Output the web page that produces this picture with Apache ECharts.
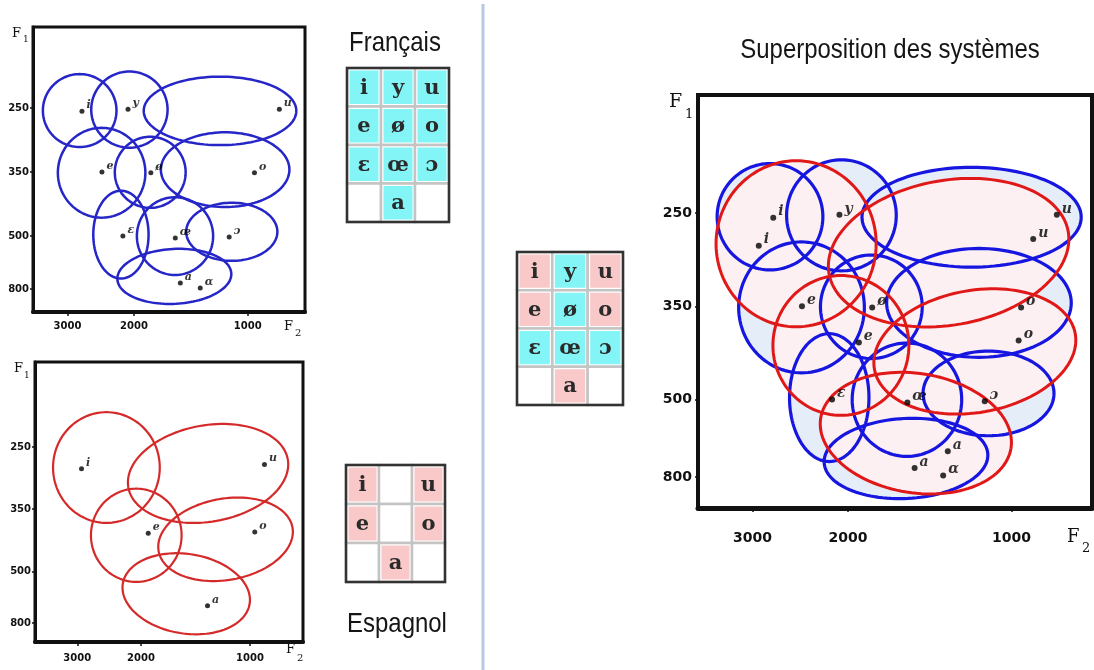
<!DOCTYPE html>
<html><head><meta charset="utf-8">
<script src="https://cdn.jsdelivr.net/npm/echarts@6/dist/echarts.min.js"></script>
<style>html,body{margin:0;padding:0;background:#fff}#c{width:1094px;height:670px}</style>
</head><body><div id="c"></div>
<script>
// ---------- data ----------
const f2Ticks = [3000, 2000, 1000];
const f1Ticks = [250, 350, 500, 800];

const frenchSymbols = ['i', 'y', 'u', 'e', 'ø', 'o', 'ɛ', 'œ', 'ɔ', 'a', 'ɑ'];
const frenchF2 = [2746, 2074, 825, 2431, 1805, 960, 2140, 1555, 1120, 1508, 1336];
const frenchF1 = [255, 252, 252, 350, 352, 352, 500, 511, 506, 765, 794];

const spanishSymbols = ['i', 'u', 'e', 'o', 'a'];
const spanishF2 = [2920, 912, 1910, 970, 1310];
const spanishF1 = [285, 278, 408, 405, 700];

// dispersion zones (unrotated extent): front F2, back F2, top F1, bottom F1, tilt (deg)
const frenchZoneVowels = ['i', 'y', 'u', 'e', 'ø', 'o', 'ɛ', 'œ', 'ɔ', 'a'];
const frenchZoneF2Front = [3484, 2595, 1885, 3180, 2248, 1698, 2563, 1965, 1455, 2214];
const frenchZoneF2Back = [2225, 1630, 744, 1866, 1460, 776, 1830, 1235, 835, 1105];
const frenchZoneF1Top = [197, 193, 201, 281, 295, 288, 394, 409, 422, 573];
const frenchZoneF1Bottom = [311, 312, 308, 457, 434, 432, 740, 720, 640, 883];
const frenchZoneTilt = [0, 0, 0, 0, 0, 0, 0, 0, 0, -3];

const spanishZoneVowels = ['i', 'u', 'e', 'o', 'a'];
const spanishZoneF2Front = [3500, 2185, 2750, 1800, 2257];
const spanishZoneF2Back = [1775, 780, 1545, 758, 997];
const spanishZoneF1Top = [194, 215, 317, 333, 458];
const spanishZoneF1Bottom = [383, 380, 561, 550, 861];
const spanishZoneTilt = [0, -10, 0, -10, 9];

const frenchTable = [['i', 'y', 'u'], ['e', 'ø', 'o'], ['ɛ', 'œ', 'ɔ'], ['', 'a', '']];
const spanishTable = [['i', '', 'u'], ['e', '', 'o'], ['', 'a', '']];

// ---------- scales ----------
const xT = f => Math.log10(f);
function yT(f) {
  if (f <= 350) return (f - 250) / 100;
  if (f <= 500) return 1 + (f - 350) / 150;
  return 2 + (f - 500) / 300 * 0.83;
}
function nearestLabel(v, ticks, fn) {
  let best = 0, d = Infinity;
  ticks.forEach((t, i) => { const dd = Math.abs(fn(t) - v); if (dd < d) { d = dd; best = i; } });
  return String(ticks[best]);
}

const CYAN = '#84f5f7', PINK = '#f8c9c8';

const panels = [
  { grid: { left: 33, top: 27, width: 272, height: 285 }, x: [2.8486, 3.5682], y: [-1.2656, 3.1875],
    bw: 3, fs: 10, xm: 9, ym: 4 },
  { grid: { left: 35, top: 362, width: 268, height: 280 }, x: [2.8535, 3.5939], y: [-1.3666, 3.135],
    bw: 3, fs: 10, xm: 11, ym: 4 },
  { grid: { left: 698, top: 95, width: 394, height: 413 }, x: [2.8517, 3.5773], y: [-1.2647, 3.1618],
    bw: 4, fs: 14, xm: 23, ym: 6 }
];
const tables = [
  { grid: { left: 347, top: 68, width: 102, height: 154 }, table: frenchTable, color: ch => CYAN },
  { grid: { left: 346, top: 465, width: 99, height: 117 }, table: spanishTable, color: ch => PINK },
  { grid: { left: 517, top: 252, width: 106, height: 153 }, table: frenchTable,
    color: ch => spanishTable.some(r => r.includes(ch)) ? PINK : CYAN }
];

const grids = [], xAxes = [], yAxes = [], series = [];
panels.forEach((p, i) => {
  grids.push(Object.assign({ show: true, borderColor: '#111', borderWidth: p.bw, backgroundColor: 'transparent' }, p.grid));
  xAxes.push({
    type: 'value', gridIndex: i, min: p.x[0], max: p.x[1], inverse: true, position: 'bottom',
    axisLine: { show: true, onZero: false, lineStyle: { color: '#111', width: p.bw + 1 } },
    axisTick: { show: true, customValues: f2Ticks.map(xT), length: 4, lineStyle: { color: '#111', width: 1.5 } },
    axisLabel: { customValues: f2Ticks.map(xT), formatter: v => nearestLabel(v, f2Ticks, xT),
      fontFamily: 'DejaVu Sans', fontWeight: 'bold', fontSize: p.fs, color: '#111', margin: p.xm },
    splitLine: { show: false }
  });
  yAxes.push({
    type: 'value', gridIndex: i, min: p.y[0], max: p.y[1], inverse: true,
    axisLine: { show: true, onZero: false, lineStyle: { color: '#111', width: p.bw } },
    axisTick: { show: true, customValues: f1Ticks.map(yT), length: 3, lineStyle: { color: '#111', width: 1.5 } },
    axisLabel: { customValues: f1Ticks.map(yT), formatter: v => nearestLabel(v, f1Ticks, yT),
      fontFamily: 'DejaVu Sans', fontWeight: 'bold', fontSize: p.fs, color: '#111', margin: p.ym },
    splitLine: { show: false }
  });
});
tables.forEach((t, k) => {
  const gi = panels.length + k;
  grids.push(Object.assign({ show: true, borderColor: '#333', borderWidth: 2.5, backgroundColor: 'transparent', z: 5 }, t.grid));
  xAxes.push({ type: 'category', gridIndex: gi, data: ['0', '1', '2'], show: false });
  yAxes.push({ type: 'category', gridIndex: gi, data: t.table.map((r, i) => String(i)), inverse: true, show: false });
});

function zoneData(f, b, t, bo, tilt) {
  return f.map((_, i) => [xT(f[i]), xT(b[i]), yT(t[i]), yT(bo[i]), tilt[i]]);
}
const frenchZones = zoneData(frenchZoneF2Front, frenchZoneF2Back, frenchZoneF1Top, frenchZoneF1Bottom, frenchZoneTilt);
const spanishZones = zoneData(spanishZoneF2Front, spanishZoneF2Back, spanishZoneF1Top, spanishZoneF1Bottom, spanishZoneTilt);

function ellipseRenderer(fill, stroke, lw) {
  return function (params, api) {
    const p1 = api.coord([api.value(0), api.value(2)]);
    const p2 = api.coord([api.value(1), api.value(3)]);
    const cx = (p1[0] + p2[0]) / 2, cy = (p1[1] + p2[1]) / 2;
    const rx = Math.abs(p2[0] - p1[0]) / 2, ry = Math.abs(p2[1] - p1[1]) / 2;
    const th = api.value(4) * Math.PI / 180, c = Math.cos(th), s = Math.sin(th);
    const pts = [];
    for (let k = 0; k < 120; k++) {
      const t = k / 120 * 2 * Math.PI, ex = rx * Math.cos(t), ey = ry * Math.sin(t);
      pts.push([cx + ex * c - ey * s, cy + ex * s + ey * c]);
    }
    return { type: 'polygon', shape: { points: pts },
      style: { fill: fill || 'none', stroke: stroke || 'none', lineWidth: lw } };
  };
}
function zoneSeries(gi, data, fill, stroke, lw, z) {
  return { type: 'custom', xAxisIndex: gi, yAxisIndex: gi, data: data, z: z,
    encode: { x: [0, 1], y: [2, 3] }, renderItem: ellipseRenderer(fill, stroke, lw), silent: true };
}
function pointSeries(gi, syms, f2, f1, size, lfs) {
  return { type: 'scatter', xAxisIndex: gi, yAxisIndex: gi, z: 10, symbolSize: size,
    itemStyle: { color: '#000' },
    data: syms.map((s, i) => ({ name: s, value: [xT(f2[i]), yT(f1[i])] })),
    label: { show: true, formatter: '{b}', position: 'right', distance: 2, offset: [0, -6],
      fontFamily: 'DejaVu Serif', fontStyle: 'italic', fontWeight: 'bold', fontSize: lfs, color: '#000' } };
}

// top-left: French
series.push(zoneSeries(0, frenchZones, null, '#2626c8', 2.5, 2));
series.push(pointSeries(0, frenchSymbols, frenchF2, frenchF1, 5, 11));
// bottom-left: Spanish
series.push(zoneSeries(1, spanishZones, null, '#d42a2a', 2.2, 2));
series.push(pointSeries(1, spanishSymbols, spanishF2, spanishF1, 5, 11));
// right: superposition
series.push(zoneSeries(2, frenchZones, '#e5edf9', null, 0, 1));
series.push(zoneSeries(2, spanishZones, '#fcf0f2', null, 0, 2));
series.push(zoneSeries(2, frenchZones, null, '#1616e0', 3.2, 3));
series.push(zoneSeries(2, spanishZones, null, '#e01818', 3, 4));
series.push(pointSeries(2, frenchSymbols, frenchF2, frenchF1, 6, 14));
series.push(pointSeries(2, spanishSymbols, spanishF2, spanishF1, 6, 14));

// vowel tables
tables.forEach((t, k) => {
  const gi = panels.length + k;
  const cells = [];
  t.table.forEach((row, r) => row.forEach((ch, c) => cells.push({ c, r, ch })));
  series.push({
    type: 'custom', xAxisIndex: gi, yAxisIndex: gi, z: 3, silent: true,
    data: cells.map(o => [o.c, o.r]),
    renderItem: function (params, api) {
      const o = cells[params.dataIndex];
      const pt = api.coord([o.c, o.r]);
      const sz = api.size([1, 1]);
      const x0 = pt[0] - sz[0] / 2, y0 = pt[1] - sz[1] / 2;
      const children = [
        { type: 'rect', shape: { x: x0, y: y0, width: sz[0], height: sz[1] },
          style: { fill: '#fff', stroke: '#c4c4c4', lineWidth: 2.5 } }
      ];
      if (o.ch) {
        children.push({ type: 'rect', shape: { x: x0 + 2.5, y: y0 + 2.5, width: sz[0] - 5, height: sz[1] - 5 },
          style: { fill: t.color(o.ch) } });
        children.push({ type: 'text', x: pt[0], y: pt[1] + 1,
          style: { text: o.ch, fill: '#2a2a2a', font: 'bold 21px "DejaVu Serif"', align: 'center', verticalAlign: 'middle' } });
      }
      return { type: 'group', children };
    }
  });
});

function ftext(x, y, t, size) {
  return { type: 'text', left: x, top: y, silent: true,
    style: { text: t, fill: '#111', font: size + 'px "DejaVu Serif"' } };
}
const titleFont = '28px "Liberation Sans", Arial, sans-serif';
function title(x, y, t) {
  return { type: 'text', x: x, y: y, scaleX: 0.855, silent: true,
    style: { text: t, font: titleFont, fill: '#151515', align: 'center', verticalAlign: 'middle' } };
}
const graphics = [
  { type: 'line', shape: { x1: 483, y1: 4, x2: 483, y2: 670 }, style: { stroke: '#b7c8e4', lineWidth: 3 }, silent: true },
  title(395, 43, 'Français'),
  title(397, 624, 'Espagnol'),
  title(890, 50, 'Superposition des systèmes'),
  ftext(12, 27, 'F', 13), ftext(23, 35, '1', 9),
  ftext(14, 362, 'F', 13), ftext(24, 371, '1', 9),
  ftext(669, 93, 'F', 19), ftext(685, 108, '1', 13),
  ftext(284, 320, 'F', 13), ftext(295, 328, '2', 10),
  ftext(286, 643, 'F', 13), ftext(297, 653, '2', 10),
  ftext(1067, 528, 'F', 18), ftext(1082, 542, '2', 13)
];

const chart = echarts.init(document.getElementById('c'), null, { renderer: 'canvas' });
chart.setOption({
  animation: false,
  backgroundColor: '#ffffff',
  grid: grids, xAxis: xAxes, yAxis: yAxes, series: series,
  graphic: graphics
});
</script></body></html>
